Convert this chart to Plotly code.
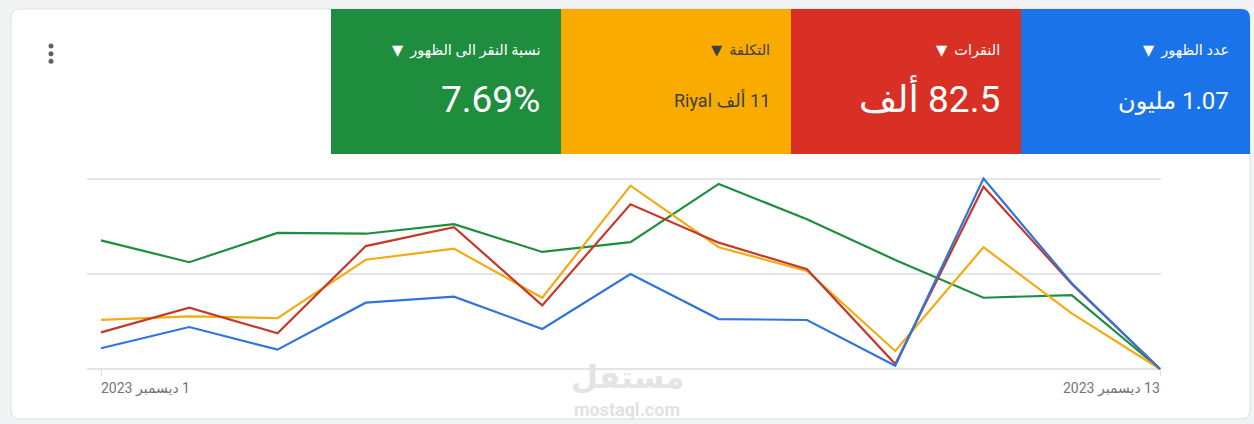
import plotly.graph_objects as go

# ---------------- data ----------------
days = [1, 2, 3, 4, 5, 6, 7, 8, 9, 10, 11, 12, 13]
# values normalised per metric (0..100 of each metric's own scale)
impressions = [10.9, 22.1, 10.2, 34.9, 38.1, 21.1, 50.0, 26.3, 25.8, 1.7, 100.2, 45.1, 0.0]
clicks = [19.3, 32.3, 18.8, 64.7, 74.7, 33.5, 86.7, 66.5, 52.5, 2.6, 95.9, 44.7, 0.0]
cost = [25.9, 27.7, 26.8, 57.5, 63.3, 37.5, 96.5, 64.1, 51.6, 9.5, 64.1, 29.3, 0.0]
ctr = [67.7, 56.2, 71.6, 71.2, 76.2, 61.6, 66.8, 97.4, 78.8, 57.4, 37.5, 38.9, 0.0]

card_titles = ["نسبة النقر الى الظهور", "التكلفة", "النقرات", "عدد الظهور"]
card_values = ["7.69%", "11 ألف Riyal", "82.5 ألف", "1.07 مليون"]
start_label = "1 ديسمبر 2023"
end_label = "13 ديسمبر 2023"

W, H = 1254, 424
RLE, PDF = "\u202B", "\u202C"


def px(x):
    return x / W


def py(y):
    return 1 - y / H


def rrect(x0, y0, x1, y1, r_tl=0, r_tr=0, r_br=0, r_bl=0):
    def X(v):
        return px(v)

    def Y(v):
        return py(v)
    p = f"M {X(x0 + r_tl)},{Y(y0)} L {X(x1 - r_tr)},{Y(y0)} "
    p += f"Q {X(x1)},{Y(y0)} {X(x1)},{Y(y0 + r_tr)} "
    p += f"L {X(x1)},{Y(y1 - r_br)} Q {X(x1)},{Y(y1)} {X(x1 - r_br)},{Y(y1)} "
    p += f"L {X(x0 + r_bl)},{Y(y1)} Q {X(x0)},{Y(y1)} {X(x0)},{Y(y1 - r_bl)} "
    p += f"L {X(x0)},{Y(y0 + r_tl)} Q {X(x0)},{Y(y0)} {X(x0 + r_tl)},{Y(y0)} Z"
    return p


fig = go.Figure()

series = [
    (ctr, "#1e8e3e"),
    (cost, "#f2ab12"),
    (clicks, "#c5392b"),
    (impressions, "#2f75dc"),
]
for vals, col in series:
    fig.add_trace(go.Scatter(x=days, y=vals, mode="lines",
                             line=dict(color=col, width=2.2),
                             hoverinfo="skip", showlegend=False))

shapes = []
# white card
shapes.append(dict(type="path", xref="paper", yref="paper",
                   path=rrect(11, 9, 1250, 419, 9, 9, 9, 9),
                   fillcolor="white", line=dict(color="#dcdfe2", width=1), layer="below"))

card_colors = ["#1e8e3e", "#f9ab00", "#d93025", "#1a73e8"]
edges = [331, 561, 791, 1021, 1250]
for i, c in enumerate(card_colors):
    rtr = 9 if i == 3 else 0
    shapes.append(dict(type="path", xref="paper", yref="paper",
                       path=rrect(edges[i], 9, edges[i + 1], 154, 0, rtr, 0, 0),
                       fillcolor=c, line=dict(width=0), layer="below"))

# kebab menu dots
for cy in [46, 53.7, 61.3]:
    shapes.append(dict(type="circle", xref="paper", yref="paper",
                       x0=px(48.5), x1=px(53.5), y0=py(cy + 2.5), y1=py(cy - 2.5),
                       fillcolor="#5f6368", line=dict(width=0)))

annotations = []
title_colors = ["white", "#3c4043", "white", "white"]
value_sizes = [37, 18, 37, 24]
value_y = [99, 100, 98, 101]
for i in range(4):
    right = edges[i + 1] - 20
    annotations.append(dict(xref="paper", yref="paper", x=px(right + 1), y=py(50.5),
                            text=RLE + card_titles[i] + "  ▼" + PDF, showarrow=False,
                            xanchor="right", yanchor="middle",
                            font=dict(family="Roboto, DejaVu Sans, sans-serif", size=14.5,
                                      color=title_colors[i])))
    annotations.append(dict(xref="paper", yref="paper", x=px(right + 1), y=py(value_y[i]),
                            text=RLE + card_values[i] + PDF, showarrow=False,
                            xanchor="right", yanchor="middle",
                            font=dict(family="Roboto, DejaVu Sans, sans-serif",
                                      size=value_sizes[i], color=title_colors[i])))

# x labels
annotations.append(dict(xref="x", yref="paper", x=days[0], y=py(388),
                        text=RLE + start_label + PDF, showarrow=False,
                        xanchor="left", yanchor="middle", xshift=-2,
                        font=dict(family="Roboto, DejaVu Sans, sans-serif", size=14, color="#70757a")))
annotations.append(dict(xref="x", yref="paper", x=days[-1], y=py(388),
                        text=RLE + end_label + PDF, showarrow=False,
                        xanchor="right", yanchor="middle", xshift=2,
                        font=dict(family="Roboto, DejaVu Sans, sans-serif", size=14, color="#70757a")))

# watermark
annotations.append(dict(xref="paper", yref="paper", x=px(627), y=py(377),
                        text="<b>مستقل</b>", showarrow=False, xanchor="center", yanchor="middle",
                        font=dict(family="DejaVu Sans, sans-serif", size=31, color="#e4e4e4")))
annotations.append(dict(xref="paper", yref="paper", x=px(627), y=py(409),
                        text="<b>mostaql.com</b>", showarrow=False, xanchor="center", yanchor="middle",
                        font=dict(family="Roboto, sans-serif", size=18, color="#e2e2e2")))

unit = (1160 - 101) / 12.0
fig.update_layout(
    width=W, height=H,
    margin=dict(l=0, r=0, t=0, b=0),
    paper_bgcolor="#f1f3f4",
    plot_bgcolor="rgba(0,0,0,0)",
    shapes=shapes,
    annotations=annotations,
    xaxis=dict(domain=[px(87), px(1161)],
               range=[1 - 14 / unit, 13 + 1 / unit],
               tickvals=[days[0], days[-1]], ticks="outside", ticklen=6,
               tickcolor="#dadce0", showticklabels=False,
               showgrid=False, zeroline=False, showline=False,
               anchor="free", position=py(369)),
    yaxis=dict(domain=[py(372.8), py(173.3)], range=[-2, 103],
               tickvals=[0, 50, 100], showticklabels=False,
               showgrid=True, gridcolor="#e3e5e8", gridwidth=1.5,
               zeroline=False, showline=False),
)

fig.write_html("out.html",
               config={"displayModeBar": False},
               post_script="document.body.style.margin='0';"
                           "document.body.style.background='#f1f3f4';"
                           "document.body.style.overflow='hidden';")
